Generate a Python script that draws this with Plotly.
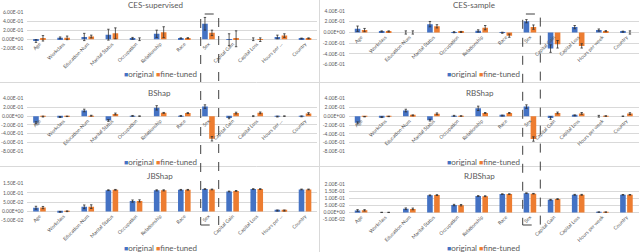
import plotly.graph_objects as go

categories = ["Age", "Workclass", "Education-Num", "Marital Status", "Occupation",
              "Relationship", "Race", "Sex", "Capital Gain", "Capital Loss",
              "Hours per week", "Country"]
labels_left = ["Age", "Workclass", "Education-Num", "Marital Status", "Occupation",
               "Relationship", "Race", "Sex", "Capital Gain", "Capital Loss",
               "Hours per ...", "Country"]
labels_right = categories

series_names = ["original", "fine-tuned"]
titles = ["CES-supervised", "CES-sample", "BShap", "RBShap", "JBShap", "RJBShap"]

# CES-supervised
ces_sup_orig = [-0.04, 0.03, 0.05, 0.10, 0.02, 0.12, 0.02, 0.34, -0.01, 0.00, 0.05, 0.015]
ces_sup_orig_err = [0.03, 0.02, 0.08, 0.12, 0.02, 0.08, 0.01, 0.14, 0.13, 0.03, 0.04, 0.01]
ces_sup_ft = [0.02, 0.03, 0.06, 0.13, 0.00, 0.155, 0.025, 0.14, 0.01, -0.01, 0.08, 0.02]
ces_sup_ft_err = [0.06, 0.04, 0.03, 0.12, 0.03, 0.12, 0.01, 0.06, 0.175, 0.04, 0.04, 0.01]

# CES-sample
ces_smp_orig = [0.07, 0.02, 0.00, 0.155, 0.005, 0.03, -0.005, 0.21, -0.30, 0.10, 0.045, 0.015]
ces_smp_orig_err = [0.05, 0.01, 0.03, 0.05, 0.01, 0.02, 0.01, 0.03, 0.07, 0.03, 0.02, 0.01]
ces_smp_ft = [0.045, 0.02, 0.00, 0.115, 0.01, 0.09, -0.06, 0.10, -0.22, -0.25, 0.025, 0.00]
ces_smp_ft_err = [0.03, 0.01, 0.03, 0.03, 0.01, 0.04, 0.03, 0.04, 0.07, 0.04, 0.01, 0.03]

# BShap
bshap_orig = [-0.15, -0.02, 0.13, -0.10, 0.005, 0.19, 0.005, 0.22, -0.04, 0.00, -0.01, -0.005]
bshap_orig_err = [0.02, 0.01, 0.03, 0.02, 0.01, 0.05, 0.01, 0.04, 0.02, 0.01, 0.01, 0.01]
bshap_ft = [-0.01, -0.005, 0.01, 0.05, 0.00, 0.075, 0.07, -0.52, 0.07, 0.075, 0.00, 0.06]
bshap_ft_err = [0.01, 0.005, 0.01, 0.02, 0.005, 0.01, 0.01, 0.05, 0.02, 0.02, 0.005, 0.02]

# RBShap
rbshap_orig = [-0.15, -0.02, 0.13, -0.09, 0.01, 0.18, 0.015, 0.22, -0.04, 0.02, 0.00, 0.00]
rbshap_orig_err = [0.02, 0.01, 0.03, 0.02, 0.01, 0.05, 0.01, 0.04, 0.03, 0.01, 0.02, 0.005]
rbshap_ft = [-0.01, -0.005, 0.02, 0.055, 0.005, 0.075, 0.075, -0.52, 0.075, 0.065, 0.005, 0.06]
rbshap_ft_err = [0.005, 0.005, 0.01, 0.02, 0.005, 0.01, 0.01, 0.05, 0.02, 0.02, 0.005, 0.02]

# JBShap
jbshap_orig = [0.020, -0.002, 0.025, 0.115, 0.056, 0.114, 0.117, 0.121, 0.108, 0.121, 0.005, 0.119]
jbshap_orig_err = [0.008, 0.002, 0.010, 0.002, 0.006, 0.003, 0.002, 0.002, 0.002, 0.002, 0.003, 0.002]
jbshap_ft = [0.021, 0.001, 0.026, 0.117, 0.057, 0.114, 0.117, 0.119, 0.111, 0.121, 0.005, 0.119]
jbshap_ft_err = [0.006, 0.002, 0.010, 0.002, 0.006, 0.003, 0.002, 0.002, 0.002, 0.002, 0.003, 0.002]

# RJBShap
rjbshap_orig = [0.014, 0.000, 0.026, 0.123, 0.053, 0.118, 0.132, 0.139, 0.091, 0.127, 0.002, 0.127]
rjbshap_orig_err = [0.006, 0.001, 0.006, 0.003, 0.005, 0.003, 0.002, 0.002, 0.003, 0.003, 0.001, 0.002]
rjbshap_ft = [0.015, 0.000, 0.025, 0.125, 0.052, 0.117, 0.132, 0.135, 0.096, 0.127, 0.002, 0.127]
rjbshap_ft_err = [0.005, 0.001, 0.006, 0.003, 0.005, 0.003, 0.002, 0.002, 0.003, 0.003, 0.001, 0.002]

# y tick values / labels
yt_ces_sup = [-0.2, 0.0, 0.2, 0.4, 0.6]
yl_ces_sup = ["-2.00E-01", "0.00E+00", "2.00E-01", "4.00E-01", "6.00E-01"]
yt_ces_smp = [-0.6, -0.4, -0.2, 0.0, 0.2, 0.4]
yl_ces_smp = ["-6.00E-01", "-4.00E-01", "-2.00E-01", "0.00E+00", "2.00E-01", "4.00E-01"]
yt_bs = [-0.8, -0.6, -0.4, -0.2, 0.0, 0.2, 0.4]
yl_bs = ["-8.00E-01", "-6.00E-01", "-4.00E-01", "-2.00E-01", "0.00E+00", "2.00E-01", "4.00E-01"]
yt_jb = [-0.05, 0.0, 0.05, 0.10, 0.15]
yl_jb = ["-5.00E-02", "0.00E+00", "5.00E-02", "1.00E-01", "1.50E-01"]
yt_rjb = [-0.05, 0.0, 0.05, 0.10, 0.15, 0.20]
yl_rjb = ["-5.00E-02", "0.00E+00", "5.00E-02", "1.00E-01", "1.50E-01", "2.00E-01"]

panels = [
    (titles[0], ces_sup_orig, ces_sup_orig_err, ces_sup_ft, ces_sup_ft_err, yt_ces_sup, yl_ces_sup, labels_left),
    (titles[1], ces_smp_orig, ces_smp_orig_err, ces_smp_ft, ces_smp_ft_err, yt_ces_smp, yl_ces_smp, labels_right),
    (titles[2], bshap_orig, bshap_orig_err, bshap_ft, bshap_ft_err, yt_bs, yl_bs, labels_left),
    (titles[3], rbshap_orig, rbshap_orig_err, rbshap_ft, rbshap_ft_err, yt_bs, yl_bs, labels_right),
    (titles[4], jbshap_orig, jbshap_orig_err, jbshap_ft, jbshap_ft_err, yt_jb, yl_jb, labels_left),
    (titles[5], rjbshap_orig, rjbshap_orig_err, rjbshap_ft, rjbshap_ft_err, yt_rjb, yl_rjb, labels_right),
]

W, H = 640, 252
# layout geometry in pixels: (x_left, x_right, y_top, y_bottom, title_x, title_y, legend_x, legend_y)
geom = [
    (27.4, 317.1, 12.0, 48.3, 155.5, 5.0, 160.5, 74.3),
    (349.0, 638.5, 11.0, 64.7, 474.0, 5.0, 483.0, 74.3),
    (27.4, 317.1, 98.7, 151.0, 159.0, 92.7, 160.5, 161.7),
    (349.0, 638.5, 98.7, 151.3, 480.0, 92.7, 483.0, 161.7),
    (27.4, 317.1, 183.7, 220.7, 160.0, 176.3, 160.5, 247.5),
    (349.0, 638.5, 184.7, 219.3, 479.0, 176.0, 483.0, 247.5),
]

BLUE = "#4472C4"
ORANGE = "#ED7D31"
COLORS = [BLUE, ORANGE]
GRID = "#D9D9D9"
TXT = "#595959"
FONT = "Lato"

fig = go.Figure()
layout = dict(width=W, height=H, margin=dict(l=0, r=0, t=0, b=0, autoexpand=False),
              paper_bgcolor="white", plot_bgcolor="white",
              barmode="group", bargap=0.42, bargroupgap=0.2, showlegend=False,
              font=dict(family=FONT, color=TXT), annotations=[], shapes=[])

legend_html = "&nbsp;".join(
    f'<span style="color:{c};font-size:7px">■</span>{n}' for n, c in zip(series_names, COLORS))

for i, (title, o, oe, f, fe, yt, yl, xl) in enumerate(panels):
    n = i + 1
    sfx = "" if n == 1 else str(n)
    xl0, xr, yt_px, yb_px, tx, ty, lx, ly = geom[i]
    lo, hi = yt[0], yt[-1]
    y0 = 1 - yb_px / H
    y1 = 1 - yt_px / H
    zero_pos = y0 + (0 - lo) / (hi - lo) * (y1 - y0)
    for name, vals, errs, col in zip(series_names, (o, f), (oe, fe), COLORS):
        fig.add_trace(go.Bar(
            x=categories, y=vals, name=name, marker=dict(color=col, line=dict(width=0)),
            error_y=dict(type="data", array=errs, thickness=0.8, width=1.2, color="#303030"),
            xaxis="x" + sfx, yaxis="y" + sfx))
    layout["xaxis" + sfx] = dict(
        domain=[xl0 / W, xr / W], anchor="free", position=zero_pos,
        type="category", categoryorder="array", categoryarray=categories,
        tickmode="array", tickvals=categories, ticktext=xl, tickangle=-45,
        tickfont=dict(size=5, color=TXT, family=FONT), showgrid=False, showline=False,
        ticks="", zeroline=False, automargin=False, fixedrange=True)
    layout["yaxis" + sfx] = dict(
        domain=[y0, y1], anchor="x" + sfx, range=[lo, hi], tickmode="array",
        tickvals=yt, ticktext=yl, tickfont=dict(size=5, color=TXT, family=FONT),
        showgrid=True, gridcolor=GRID, gridwidth=0.8, zeroline=False, showline=False,
        ticks="", ticklabelstandoff=3, automargin=False, fixedrange=True)
    layout["annotations"].append(dict(
        text=title, x=tx / W, y=1 - ty / H, xref="paper", yref="paper",
        xanchor="center", yanchor="middle", showarrow=False,
        font=dict(size=8, color=TXT, family=FONT)))
    layout["annotations"].append(dict(
        text=legend_html, x=lx / W, y=1 - ly / H, xref="paper", yref="paper",
        xanchor="center", yanchor="middle", showarrow=False,
        font=dict(size=8, color=TXT, family=FONT)))

# separators
layout["shapes"].append(dict(type="line", xref="paper", yref="paper", x0=319.5 / W, x1=319.5 / W,
                             y0=0, y1=1, line=dict(color=GRID, width=1)))
for yy in (82.5, 166.5):
    layout["shapes"].append(dict(type="line", xref="paper", yref="paper", x0=0, x1=1,
                                 y0=1 - yy / H, y1=1 - yy / H, line=dict(color=GRID, width=1)))
# dashed highlight boxes around "Sex"
for bx0, bx1 in ((200.7, 218.7), (522.7, 540.3)):
    layout["shapes"].append(dict(type="rect", xref="paper", yref="paper",
                                 x0=bx0 / W, x1=bx1 / W, y0=1 - 225 / H, y1=1 - 14 / H,
                                 line=dict(color="#404040", width=1, dash="dash"),
                                 fillcolor="rgba(0,0,0,0)"))

fig.update_layout(**layout)
fig.write_html("out.html", config={"displayModeBar": False},
               post_script="document.body.style.margin='0';document.body.style.overflow='hidden';")
